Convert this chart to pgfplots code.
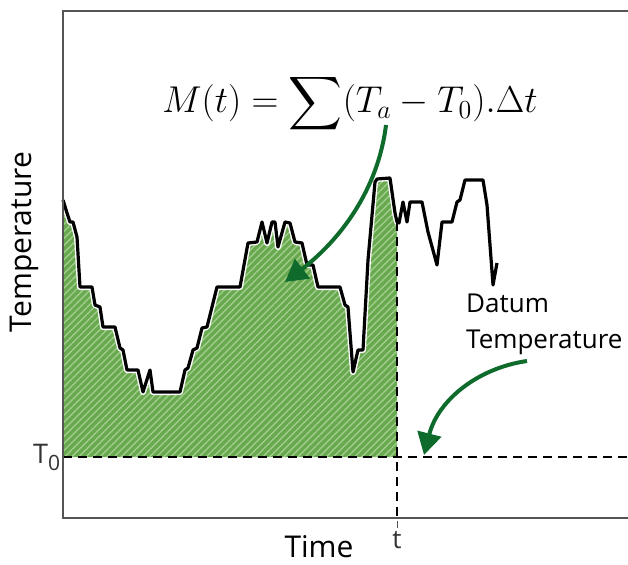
\documentclass[border=0pt]{standalone}
\usepackage{exscale}
\usepackage{pgfplots}
\pgfplotsset{compat=1.18}
\usepackage{pgfplotstable}
\usepackage{fontspec}
\setmainfont{Open Sans}
\usetikzlibrary{arrows.meta,patterns.meta}

\definecolor{areagreen}{RGB}{104,168,78}
\definecolor{stripegreen}{RGB}{160,205,140}
\definecolor{arrowgreen}{RGB}{14,107,44}
\definecolor{framegray}{RGB}{85,85,85}

% temperature trace, x = time, y = temperature (screen-like units, y reversed)
\pgfplotstableread{
x y
63 200
67 213
70 222
73 222
77 237
80 287
92 287
95 305
100 307
103 327
115 327
120 348
123 350
127 370
138 370
143 392
150 370
153 392
180 392
185 370
188 368
193 350
197 348
202 328
207 327
217 287
240 287
248 243
257 242
262 222
267 243
272 222
275 222
278 247
285 222
290 223
295 242
302 243
307 265
313 265
318 287
340 287
345 305
348 307
353 372
358 350
363 350
368 260
375 182
377 179
390 178
395 213
397 222
399 223
403 202
407 222
410 202
422 202
428 232
437 265
442 222
452 222
457 202
460 200
465 180
483 180
487 205
493 285
497 263
}\curve

% maturity area up to time t, closed on the datum line
\pgfplotstableread{
x y
63 200
67 213
70 222
73 222
77 237
80 287
92 287
95 305
100 307
103 327
115 327
120 348
123 350
127 370
138 370
143 392
150 370
153 392
180 392
185 370
188 368
193 350
197 348
202 328
207 327
217 287
240 287
248 243
257 242
262 222
267 243
272 222
275 222
278 247
285 222
290 223
295 242
302 243
307 265
313 265
318 287
340 287
345 305
348 307
353 372
358 350
363 350
368 260
375 182
377 179
390 178
395 213
397 222
397 457
63 457
}\area

\begin{document}
\begin{tikzpicture}
\begin{axis}[
    at={(63pt,46pt)}, anchor=south west,
    scale only axis, width=565pt, height=507pt,
    xmin=63, xmax=628, ymin=11, ymax=518,
    y dir=reverse,
    axis line style={draw=none},
    ticks=none,
    clip=false,
]
    \addplot[draw=none, fill=areagreen,
        postaction={pattern={Lines[angle=45,distance=5pt,line width=1.4pt]}, pattern color=stripegreen}]
        table[x=x, y=y] {\area} -- cycle;

    \addplot[white, line width=6pt, line join=round] table[x=x, y=y] {\curve};
    \addplot[black, line width=3.2pt, line join=round] table[x=x, y=y] {\curve};

    % datum line and time t
    \addplot[black, line width=2.4pt, dash pattern=on 9pt off 6pt] coordinates {(63,457) (628,457)};
    \addplot[black, line width=2.4pt, dash pattern=on 9pt off 6pt] coordinates {(397,222) (397,518)};

    % frame
    \draw[framegray, line width=1.6pt] (axis cs:628,11) -- (axis cs:63,11) -- (axis cs:63,518) -- (axis cs:628,518);
    \draw[framegray, line width=1pt] (axis cs:397,521) -- (axis cs:397,528);

    % arrows
    \draw[arrowgreen, line width=4pt, -{Triangle[length=22pt,width=24pt]}]
        (axis cs:386,125) .. controls (axis cs:378,190) and (axis cs:340,240) .. (axis cs:285,282);
    \draw[arrowgreen, line width=4pt, -{Triangle[length=22pt,width=24pt]}]
        (axis cs:527,361) .. controls (axis cs:478,368) and (axis cs:438,400) .. (axis cs:424,455);

    % texts
    \node[anchor=base, font=\fontsize{20.74}{25}\selectfont] at (axis cs:350,113)
        {\scalebox{1.8}{$\displaystyle M(t)=\sum(T_a-T_0).\Delta t$}};
    \node[rotate=90, font=\fontsize{30}{36}\selectfont] at (axis cs:24,242) {Temperature};
    \node[anchor=base, inner sep=0pt, font=\fontsize{30}{36}\selectfont] at (axis cs:319,557) {Time};
    \node[anchor=base, text=black!80, font=\fontsize{26}{30}\selectfont] at (axis cs:397,548) {t};
    \node[anchor=base west, inner sep=0pt, text=black!80, font=\fontsize{27}{30}\selectfont] at (axis cs:33,463)
        {T\raisebox{-7pt}{\fontsize{21}{21}\selectfont 0}};
    \node[anchor=base west, inner sep=0pt, font=\fontsize{26}{30}\selectfont] at (axis cs:466,312) {Datum};
    \node[anchor=base west, inner sep=0pt, font=\fontsize{26}{30}\selectfont] at (axis cs:466,348) {Temperature};
\end{axis}
\pgfresetboundingbox
\path (0pt,0pt) rectangle (628pt,564pt);
\end{tikzpicture}
\end{document}
